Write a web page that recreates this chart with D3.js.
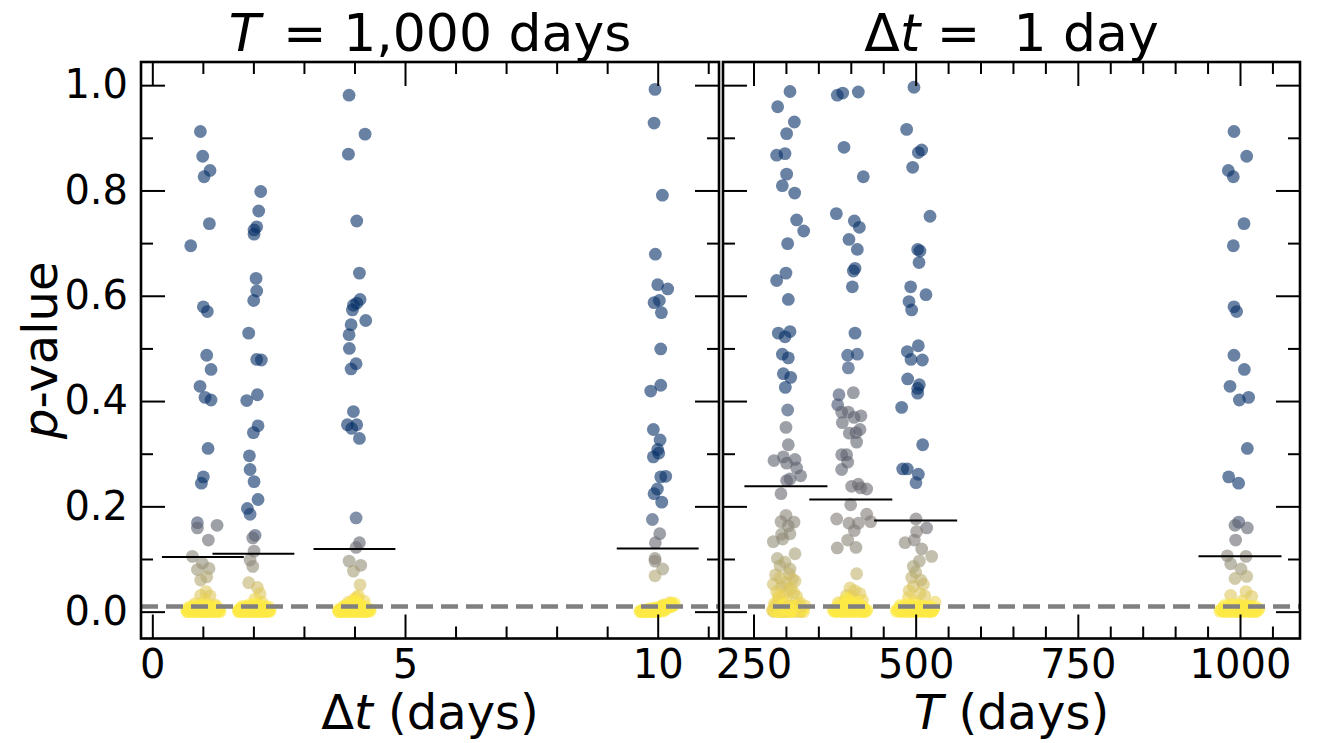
<!DOCTYPE html>
<html>
<head>
<meta charset="utf-8">
<script src="https://cdn.jsdelivr.net/npm/d3@7"></script>
<style>
  body { margin: 0; background: #fff; }
  text { font-family: "DejaVu Sans", sans-serif; white-space: pre; }
</style>
</head>
<body>
<div id="chart"></div>
<script>
// ---- data ----
// each point: [x position, p-value, colour value on cividis (0 blue .. 1 yellow)]
var dtCenters = [1, 2, 4, 10];
var dtMeans = [0.104, 0.110, 0.119, 0.120];
var tCenters = [300, 400, 500, 1000];
var tMeans = [0.238, 0.213, 0.173, 0.105];
var pThreshold = 0.01;

var dtTicks = [0, 5, 10];
var tTicks = [250, 500, 750, 1000];
var yTicks = [0, 0.2, 0.4, 0.6, 0.8, 1.0];

var dt1 = [[0.951,0.912,0],[0.997,0.865,0],[1.142,0.838,0],[1.024,0.826,0],[1.129,0.737,0],[0.760,0.695,0],
  [1.010,0.579,0],[1.089,0.570,0],[1.076,0.487,0],[1.162,0.460,0],[0.944,0.428,0],[1.043,0.407,0],[1.162,0.402,0],
  [1.103,0.310,0],[1.010,0.256,0],[0.971,0.244,0],[0.892,0.169,0.2],[0.892,0.159,0.3],[1.281,0.164,0.3],[1.109,0.136,0.35],
  [0.793,0.105,0.5],[0.990,0.092,0.55],[0.892,0.080,0.6],[1.122,0.082,0.6],[1.076,0.066,0.7],[0.957,0.060,0.7],
  [1.063,0.038,0.85],[0.957,0.031,0.85],[1.142,0.030,0.85],[1.043,0.022,0.9],[0.845,0.015,0.9],[1.241,0.013,0.9]];
var dt1Blob = [[0.68,0.002,1],[0.72,0.000,1],[0.75,0.004,1],[0.78,0.001,1],[0.81,0.003,1],[0.84,0.000,1],[0.86,0.006,1],
  [0.89,0.002,1],[0.92,0.000,1],[0.94,0.004,1],[0.97,0.001,1],[0.99,0.007,1],[1.02,0.002,1],[1.04,0.000,1],[1.06,0.005,1],
  [1.09,0.001,1],[1.11,0.003,1],[1.14,0.000,1],[1.16,0.006,1],[1.19,0.002,1],[1.22,0.000,1],[1.25,0.004,1],[1.28,0.001,1],
  [1.31,0.003,1],[1.34,0.000,1],[0.90,0.010,1],[1.05,0.011,1],[1.20,0.009,1],[0.80,0.008,1],[1.12,0.009,1],
  [0.70,0.005,1],[0.73,0.002,1],[0.765,0.006,1],[0.795,0.000,1],[0.825,0.005,1],[0.855,0.002,1],[0.875,0.008,1],
  [0.905,0.004,1],[0.93,0.001,1],[0.955,0.007,1],[0.98,0.003,1],[1.005,0.000,1],[1.03,0.006,1],[1.05,0.003,1],
  [1.075,0.008,1],[1.10,0.000,1],[1.125,0.006,1],[1.15,0.003,1],[1.175,0.001,1],[1.205,0.005,1],[1.235,0.002,1],
  [1.265,0.006,1],[1.295,0.000,1],[1.32,0.005,1],[0.74,0.009,1],[0.83,0.011,1],[0.97,0.013,1],[1.10,0.012,1],
  [1.26,0.010,1],[0.69,0.000,1],[1.33,0.003,1]];

var dt2 = [[2.145,0.798,0],[2.105,0.761,0],[2.066,0.731,0],[2.013,0.725,0],[2.013,0.717,0],[2.053,0.633,0],[2.066,0.609,0],
  [2.006,0.591,0],[1.907,0.529,0],[2.066,0.479,0],[2.158,0.478,0],[2.079,0.412,0],[1.868,0.401,0],[2.092,0.353,0],
  [2.000,0.340,0],[1.921,0.296,0],[1.934,0.270,0],[2.013,0.247,0],[2.092,0.213,0],[1.881,0.196,0],[1.934,0.185,0.05],
  [2.033,0.145,0.2],[1.987,0.140,0.3],[2.013,0.115,0.4],[1.934,0.098,0.5],[1.987,0.086,0.55],[1.907,0.055,0.75],
  [2.079,0.046,0.8],[2.132,0.034,0.85],[2.033,0.024,0.9],[2.171,0.018,0.9]];
var dt2Blob = [[1.70,0.001,1],[1.73,0.004,1],[1.76,0.000,1],[1.79,0.002,1],[1.82,0.005,1],[1.85,0.001,1],[1.88,0.003,1],
  [1.90,0.000,1],[1.93,0.006,1],[1.96,0.002,1],[1.98,0.000,1],[2.01,0.004,1],[2.03,0.001,1],[2.06,0.007,1],[2.08,0.002,1],
  [2.11,0.000,1],[2.14,0.004,1],[2.17,0.001,1],[2.20,0.003,1],[2.23,0.000,1],[2.26,0.002,1],[2.29,0.005,1],[2.33,0.001,1],
  [1.86,0.010,1],[2.00,0.012,1],[2.12,0.010,1],[2.22,0.009,1],
  [1.71,0.003,1],[1.745,0.006,1],[1.775,0.002,1],[1.805,0.000,1],[1.835,0.006,1],[1.865,0.003,1],[1.895,0.008,1],
  [1.915,0.001,1],[1.945,0.005,1],[1.97,0.002,1],[1.995,0.007,1],[2.02,0.000,1],[2.045,0.004,1],[2.07,0.001,1],
  [2.095,0.006,1],[2.12,0.003,1],[2.155,0.000,1],[2.185,0.005,1],[2.215,0.002,1],[2.245,0.006,1],[2.275,0.000,1],
  [2.31,0.004,1],[1.78,0.010,1],[1.92,0.013,1],[2.05,0.015,1],[2.17,0.011,1],[2.30,0.009,1],[1.72,0.000,1],
  [2.32,0.002,1],[1.99,0.010,1]];

var dt4 = [[3.893,0.981,0],[4.210,0.907,0],[3.880,0.869,0],[4.045,0.742,0],[4.098,0.643,0],[4.111,0.593,0],[4.045,0.586,0],
  [3.979,0.582,0],[3.959,0.573,0],[4.223,0.553,0],[3.933,0.545,0],[3.893,0.526,0],[3.899,0.500,0],[4.032,0.471,0],
  [3.933,0.461,0],[3.979,0.380,0],[3.860,0.355,0],[4.045,0.355,0],[3.946,0.348,0],[4.098,0.329,0],
  [4.032,0.178,0.15],[4.098,0.131,0.3],[4.032,0.122,0.35],[3.893,0.096,0.55],[4.124,0.088,0.55],[3.979,0.077,0.65],
  [4.111,0.051,0.8],[4.045,0.027,0.9],[3.880,0.018,0.9],[4.190,0.020,0.9],[4.00,0.024,0.95],[4.08,0.030,0.9]];
var dt4Blob = [[3.68,0.001,1],[3.71,0.004,1],[3.74,0.000,1],[3.77,0.002,1],[3.80,0.005,1],[3.83,0.001,1],[3.86,0.003,1],
  [3.88,0.000,1],[3.91,0.006,1],[3.94,0.002,1],[3.97,0.000,1],[3.99,0.004,1],[4.02,0.001,1],[4.05,0.007,1],[4.08,0.002,1],
  [4.11,0.000,1],[4.14,0.004,1],[4.17,0.001,1],[4.20,0.003,1],[4.23,0.000,1],[4.27,0.002,1],[4.31,0.001,1],[3.85,0.010,1],
  [3.96,0.013,1],[4.05,0.016,1],[4.12,0.011,1],[3.78,0.009,1],
  [3.69,0.004,1],[3.725,0.001,1],[3.755,0.006,1],[3.785,0.000,1],[3.815,0.003,1],[3.845,0.007,1],[3.87,0.002,1],
  [3.895,0.005,1],[3.925,0.000,1],[3.955,0.006,1],[3.98,0.002,1],[4.005,0.008,1],[4.03,0.003,1],[4.06,0.000,1],
  [4.09,0.005,1],[4.12,0.002,1],[4.155,0.006,1],[4.185,0.000,1],[4.215,0.004,1],[4.25,0.001,1],[4.29,0.005,1],
  [3.82,0.012,1],[3.92,0.015,1],[4.00,0.018,1],[4.10,0.014,1],[4.20,0.010,1],[4.03,0.021,1],[3.70,0.000,1],[4.30,0.003,1]];

var dt10 = [[9.947,0.992,0],[9.928,0.928,0],[10.093,0.791,0],[9.954,0.679,0],[10.000,0.621,0],[10.198,0.613,0],
  [10.033,0.591,0],[9.928,0.587,0],[10.073,0.568,0],[10.060,0.499,0],[10.060,0.430,0],[9.862,0.419,0],[9.914,0.346,0],
  [10.046,0.326,0],[10.000,0.308,0],[10.020,0.301,0],[9.914,0.294,0],[10.159,0.257,0],[10.060,0.256,0],[9.994,0.233,0],
  [9.928,0.224,0],[10.080,0.208,0],[9.895,0.175,0.15],[10.040,0.148,0.3],[9.954,0.131,0.35],[9.947,0.101,0.5],
  [9.947,0.096,0.5],[10.099,0.081,0.6],[9.947,0.068,0.7],[10.244,0.017,0.9],[10.112,0.013,0.9]];
var dt10Blob = [[9.65,0.000,1],[9.68,0.001,1],[9.71,0.000,1],[9.74,0.002,1],[9.77,0.001,1],[9.80,0.003,1],[9.83,0.001,1],
  [9.86,0.004,1],[9.89,0.002,1],[9.92,0.005,1],[9.95,0.003,1],[9.98,0.006,1],[10.01,0.004,1],[10.04,0.007,1],
  [10.07,0.005,1],[10.10,0.009,1],[10.13,0.006,1],[10.16,0.010,1],[10.19,0.008,1],[10.22,0.012,1],[10.25,0.010,1],
  [10.28,0.014,1],[10.31,0.012,1],[9.90,0.000,1],[10.00,0.000,1],[10.10,0.001,1],[9.80,0.000,1],
  [9.66,0.002,1],[9.695,0.000,1],[9.725,0.003,1],[9.755,0.000,1],[9.785,0.004,1],[9.815,0.002,1],[9.845,0.005,1],
  [9.875,0.003,1],[9.905,0.006,1],[9.935,0.002,1],[9.965,0.007,1],[9.995,0.003,1],[10.025,0.008,1],[10.055,0.004,1],
  [10.085,0.010,1],[10.115,0.006,1],[10.145,0.012,1],[10.175,0.008,1],[10.205,0.013,1],[10.235,0.009,1],
  [10.265,0.015,1],[10.295,0.011,1],[10.33,0.016,1],[9.85,0.000,1],[9.95,0.000,1],[10.05,0.001,1],[10.15,0.003,1],
  [9.75,0.001,1]];

var t300 = [[306.3,0.988,0],[287.3,0.959,0],[313.0,0.930,0],[301.1,0.908,0],[285.7,0.867,0],[298.6,0.870,0],[301.1,0.831,0],
  [294.5,0.809,0],[313.5,0.795,0],[316.5,0.744,0],[327.4,0.723,0],[302.7,0.699,0],[285.7,0.629,0],[300.1,0.643,0],
  [303.7,0.593,0],[288.3,0.529,0],[306.3,0.532,0],[298.6,0.522,0],[294.5,0.489,0],[303.7,0.482,0],[296.0,0.452,0],
  [307.3,0.445,0],[299.1,0.426,0],[302.7,0.383,0.15],[300.1,0.350,0.3],[303.7,0.317,0.3],[281.6,0.287,0.3],
  [296.0,0.294,0.3],[314.0,0.289,0.3],[301.1,0.282,0.3],[316.5,0.273,0.3],[322.7,0.258,0.3],[306.3,0.252,0.3],
  [301.1,0.249,0.3],[292.4,0.224,0.35],[300.1,0.183,0.5],[292.4,0.171,0.5],[312.4,0.170,0.5],[303.7,0.163,0.5],
  [293.4,0.147,0.55],[280.6,0.133,0.55],[306.3,0.148,0.55],[295.0,0.138,0.55],[286.8,0.101,0.65],[314.0,0.110,0.65],
  [290.9,0.087,0.7],[306.3,0.081,0.7],[298.6,0.094,0.7],[314.0,0.058,0.8],[280.6,0.052,0.8],[293.4,0.048,0.8],
  [303.7,0.040,0.85],[285.7,0.038,0.85],[316.5,0.029,0.85],[296.0,0.031,0.85],[321.7,0.017,0.9],[329.4,0.011,0.9],
  [288.3,0.024,0.9],[284.0,0.070,0.75],[305.0,0.072,0.75],[310.0,0.062,0.8],[291.0,0.064,0.8],[299.0,0.055,0.8],
  [308.0,0.045,0.85],[289.0,0.030,0.9],[300.0,0.020,0.9],[312.0,0.036,0.85],[282.0,0.015,0.9]];
var t300Blob = [[279,0.002,0.9],[282,0.000,0.85],[285,0.004,0.9],[288,0.001,0.85],[291,0.003,0.9],[294,0.000,0.85],
  [297,0.006,1],[300,0.002,0.9],[303,0.000,0.85],[306,0.005,1],[309,0.001,0.9],[312,0.003,1],[315,0.000,0.9],
  [318,0.004,1],[321,0.001,0.9],[324,0.002,1],[327,0.000,0.95],[290,0.009,1],[300,0.011,1],[310,0.010,0.95],
  [284,0.012,0.9],[318,0.013,0.9],
  [280.5,0.004,0.9],[283.5,0.001,1],[286.5,0.006,0.9],[289.5,0.002,1],[292.5,0.000,0.9],[295.5,0.005,1],
  [298.5,0.001,0.85],[301.5,0.007,1],[304.5,0.003,0.9],[307.5,0.000,1],[310.5,0.006,0.9],[313.5,0.002,1],
  [316.5,0.008,0.9],[319.5,0.003,1],[322.5,0.000,0.9],[325.5,0.005,1],[287,0.011,0.9],[296,0.014,1],[305,0.012,0.9],
  [314,0.010,1],[322,0.008,0.9],[300,0.000,1],[310,0.003,1],[290,0.000,1]];

var t400 = [[379.2,0.981,0],[387.5,0.985,0],[411.6,0.987,0],[389.5,0.882,0],[419.3,0.826,0],[377.7,0.756,0],[405.5,0.742,0],
  [413.2,0.730,0],[397.2,0.707,0],[410.1,0.688,0],[406.5,0.652,0],[403.9,0.647,0],[402.4,0.617,0],[406.5,0.529,0],
  [395.2,0.487,0.05],[410.1,0.489,0.05],[396.2,0.463,0.1],[403.9,0.416,0.3],[381.8,0.412,0.2],[379.8,0.393,0.2],
  [385.9,0.379,0.3],[396.2,0.379,0.3],[415.7,0.372,0.3],[405.0,0.369,0.3],[387.0,0.359,0.3],[414.2,0.346,0.3],
  [397.7,0.339,0.3],[408.0,0.340,0.3],[409.0,0.322,0.3],[385.9,0.298,0.3],[393.6,0.298,0.3],[395.2,0.284,0.3],
  [385.9,0.270,0.3],[401.3,0.238,0.35],[411.6,0.242,0.35],[424.5,0.233,0.35],[415.2,0.235,0.35],[399.8,0.203,0.4],
  [378.2,0.176,0.45],[397.2,0.168,0.45],[411.6,0.168,0.45],[424.5,0.185,0.45],[430.6,0.171,0.45],[405.5,0.154,0.45],
  [395.2,0.136,0.5],[379.2,0.121,0.5],[408.0,0.122,0.5],[409.0,0.072,0.75],[398.8,0.045,0.85],[414.2,0.034,0.85],
  [393.6,0.031,0.85],[380.8,0.017,0.9],[402.0,0.028,0.9],[418.0,0.022,0.9],[390.0,0.020,0.9],[406.0,0.040,0.85]];
var t400Blob = [[373,0.002,1],[376,0.000,1],[379,0.004,1],[382,0.001,1],[385,0.003,1],[388,0.000,1],[391,0.006,1],
  [394,0.002,1],[397,0.000,1],[400,0.005,1],[403,0.001,1],[406,0.003,1],[409,0.000,1],[412,0.004,1],[415,0.001,1],
  [418,0.002,1],[421,0.000,1],[425,0.003,1],[384,0.010,1],[396,0.012,1],[408,0.011,1],[419,0.009,1],[402,0.016,1],
  [374.5,0.004,1],[377.5,0.001,1],[380.5,0.006,1],[383.5,0.002,1],[386.5,0.000,1],[389.5,0.005,1],[392.5,0.001,1],
  [395.5,0.007,1],[398.5,0.003,1],[401.5,0.000,1],[404.5,0.006,1],[407.5,0.002,1],[410.5,0.008,1],[413.5,0.003,1],
  [416.5,0.000,1],[419.5,0.005,1],[423,0.001,1],[380,0.012,1],[391,0.014,1],[404,0.013,1],[414,0.010,1],
  [399,0.020,1],[411,0.018,1],[394,0.025,1]];

var t500 = [[497.4,0.996,0],[486.1,0.916,0],[509.3,0.877,0],[504.1,0.872,0],[495.4,0.844,0],[522.1,0.751,0],[503.1,0.688,0],
  [506.7,0.685,0],[505.2,0.663,0],[492.3,0.617,0],[515.9,0.602,0],[489.7,0.589,0],[493.8,0.573,0],[504.1,0.505,0],
  [487.1,0.494,0],[492.8,0.479,0],[510.3,0.478,0],[487.7,0.442,0],[505.7,0.431,0],[503.1,0.424,0],[503.1,0.415,0],
  [478.4,0.388,0],[510.8,0.317,0],[480.0,0.271,0],[487.1,0.271,0],[504.1,0.261,0],[500.5,0.245,0.05],
  [500.5,0.176,0.4],[516.9,0.159,0.35],[501.5,0.152,0.45],[497.9,0.136,0.45],[483.6,0.131,0.5],[509.3,0.119,0.5],
  [524.7,0.105,0.6],[505.7,0.096,0.6],[496.4,0.086,0.65],[493.8,0.065,0.75],[511.8,0.052,0.8],[496.4,0.048,0.8],
  [506.7,0.034,0.85],[529.8,0.018,0.9],[488.7,0.027,0.9],[500.0,0.075,0.7],[508.0,0.060,0.75],[490.0,0.040,0.85],
  [514.0,0.030,0.85],[498.0,0.020,0.9]];
var t500Blob = [[470,0.001,1],[473,0.004,1],[476,0.000,1],[479,0.002,1],[482,0.005,1],[485,0.001,1],[488,0.003,1],
  [491,0.000,1],[494,0.006,1],[497,0.002,1],[500,0.000,1],[503,0.004,1],[506,0.001,1],[509,0.003,1],[512,0.000,1],
  [515,0.005,1],[518,0.001,1],[521,0.002,1],[524,0.000,1],[527,0.003,1],[480,0.010,1],[492,0.012,1],[505,0.011,1],
  [517,0.009,1],
  [471.5,0.003,1],[474.5,0.006,1],[477.5,0.001,1],[480.5,0.004,1],[483.5,0.000,1],[486.5,0.007,1],[489.5,0.002,1],
  [492.5,0.005,1],[495.5,0.000,1],[498.5,0.006,1],[501.5,0.003,1],[504.5,0.008,1],[507.5,0.001,1],[510.5,0.005,1],
  [513.5,0.002,1],[516.5,0.007,1],[519.5,0.000,1],[522.5,0.004,1],[525.5,0.001,1],[528,0.006,1],[476,0.012,1],
  [487,0.014,1],[499,0.013,1],[511,0.011,1],[522,0.010,1]];

var t1000 = [[990.7,0.912,0],[1010.3,0.865,0],[982.0,0.838,0],[989.7,0.826,0],[1006.2,0.737,0],[989.7,0.695,0],
  [990.7,0.579,0],[994.8,0.570,0],[990.7,0.487,0],[1006.7,0.460,0],[984.6,0.428,0],[999.0,0.402,0],[1013.3,0.407,0],
  [1011.3,0.310,0],[982.5,0.256,0],[997.9,0.244,0],[997.9,0.170,0.2],[992.3,0.164,0.3],[1011.3,0.159,0.3],
  [993.3,0.136,0.35],[980.4,0.106,0.5],[1009.2,0.105,0.5],[985.6,0.091,0.55],[1001.5,0.081,0.6],[1010.3,0.067,0.7],
  [992.3,0.063,0.7],[1009.2,0.038,0.85],[985.6,0.031,0.85],[1018.0,0.029,0.85],[1003.0,0.020,0.9]];
var t1000Blob = [[969,0.001,1],[972,0.004,1],[975,0.000,1],[978,0.002,1],[981,0.005,1],[984,0.001,1],[987,0.003,1],
  [990,0.000,1],[993,0.006,1],[996,0.002,1],[999,0.000,1],[1002,0.004,1],[1005,0.001,1],[1008,0.003,1],[1011,0.000,1],
  [1014,0.005,1],[1017,0.001,1],[1020,0.002,1],[1024,0.000,1],[1028,0.003,1],[980,0.010,1],[995,0.012,1],[1008,0.011,1],
  [1018,0.009,1],
  [970.5,0.003,1],[973.5,0.006,1],[976.5,0.001,1],[979.5,0.004,1],[982.5,0.000,1],[985.5,0.007,1],[988.5,0.002,1],
  [991.5,0.005,1],[994.5,0.000,1],[997.5,0.006,1],[1000.5,0.003,1],[1003.5,0.008,1],[1006.5,0.001,1],[1009.5,0.005,1],
  [1012.5,0.002,1],[1015.5,0.007,1],[1018.5,0.000,1],[1021.5,0.004,1],[1025,0.001,1],[1029,0.005,1],[976,0.012,1],
  [987,0.014,1],[1000,0.013,1],[1012,0.011,1],[1023,0.010,1]];

// ---- layout ----
var svgWidth = 1319, svgHeight = 743;
var plotTop = 62, plotBottom = 638.5;

var svg = d3.select("#chart").append("svg")
    .attr("width", svgWidth)
    .attr("height", svgHeight);

var y = d3.scaleLinear().domain([-0.051, 1.044]).range([plotBottom, plotTop]);

// the darkest marks in the figure sit a little above the very end of cividis
var color = function(v) { return d3.interpolateCividis(0.08 + 0.92 * v); };

var panels = [
    {
        x: d3.scaleLinear().domain([-0.224, 11.213]).range([141, 719]),
        groups: [dt1, dt1Blob, dt2, dt2Blob, dt4, dt4Blob, dt10, dt10Blob],
        centers: dtCenters,
        means: dtMeans,
        halfWidth: 0.81,
        ticks: dtTicks,
        minor: d3.range(0, 12),
        yLabels: true,
        id: "left"
    },
    {
        x: d3.scaleLinear().domain([203.0, 1092.5]).range([723, 1300]),
        groups: [t300, t300Blob, t400, t400Blob, t500, t500Blob, t1000, t1000Blob],
        centers: tCenters,
        means: tMeans,
        halfWidth: 64,
        ticks: tTicks,
        minor: d3.range(250, 1100, 50),
        yLabels: false,
        id: "right"
    }
];

var yMinor = [0.1, 0.3, 0.5, 0.7, 0.9];

function styleAxis(g) {
    g.select(".domain").remove();
    g.selectAll("line").attr("stroke", "#000").attr("stroke-width", 2);
    g.selectAll("text").attr("fill", "#000");
    g.attr("font-size", 40).attr("font-family", "DejaVu Sans");
}

panels.forEach(function(p) {
    var x0 = p.x.range()[0], x1 = p.x.range()[1];
    var minorX = p.minor.filter(function(v) { return p.ticks.indexOf(v) < 0; });

    svg.append("clipPath").attr("id", "clip-" + p.id)
        .append("rect")
        .attr("x", x0).attr("y", plotTop)
        .attr("width", x1 - x0).attr("height", plotBottom - plotTop);

    var plot = svg.append("g").attr("clip-path", "url(#clip-" + p.id + ")");

    // points
    p.groups.forEach(function(group) {
        plot.append("g").selectAll("circle")
            .data(group)
            .enter().append("circle")
            .attr("cx", function(d) { return p.x(d[0]); })
            .attr("cy", function(d) { return y(d[1]); })
            .attr("r", 6.4)
            .attr("fill", function(d) { return color(d[2]); })
            .attr("fill-opacity", 0.6);
    });

    // mean lines
    plot.append("g").selectAll("line")
        .data(p.centers)
        .enter().append("line")
        .attr("x1", function(d) { return p.x(d - p.halfWidth); })
        .attr("x2", function(d) { return p.x(d + p.halfWidth); })
        .attr("y1", function(d, i) { return y(p.means[i]); })
        .attr("y2", function(d, i) { return y(p.means[i]); })
        .attr("stroke", "#000")
        .attr("stroke-width", 2);

    // threshold
    plot.append("line")
        .attr("x1", x0).attr("x2", x1)
        .attr("y1", y(pThreshold)).attr("y2", y(pThreshold))
        .attr("stroke", "#808080")
        .attr("stroke-width", 4.5)
        .attr("stroke-dasharray", "17,8");

    // ticks, all pointing inwards
    svg.append("g").attr("transform", "translate(0," + plotBottom + ")")
        .call(d3.axisBottom(p.x).tickValues(p.ticks).tickSizeInner(-24).tickSizeOuter(0)
            .tickPadding(11).tickFormat(d3.format("d")))
        .call(styleAxis);
    svg.append("g").attr("transform", "translate(0," + plotBottom + ")")
        .call(d3.axisBottom(p.x).tickValues(minorX).tickSize(-12).tickFormat(""))
        .call(styleAxis);
    svg.append("g").attr("transform", "translate(0," + plotTop + ")")
        .call(d3.axisTop(p.x).tickValues(p.ticks).tickSize(-24).tickFormat(""))
        .call(styleAxis);
    svg.append("g").attr("transform", "translate(0," + plotTop + ")")
        .call(d3.axisTop(p.x).tickValues(minorX).tickSize(-12).tickFormat(""))
        .call(styleAxis);

    svg.append("g").attr("transform", "translate(" + x0 + ",0)")
        .call(d3.axisLeft(y).tickValues(yTicks).tickSizeInner(-24).tickSizeOuter(0)
            .tickPadding(13).tickFormat(p.yLabels ? d3.format(".1f") : ""))
        .call(styleAxis);
    svg.append("g").attr("transform", "translate(" + x0 + ",0)")
        .call(d3.axisLeft(y).tickValues(yMinor).tickSize(-12).tickFormat(""))
        .call(styleAxis);
    svg.append("g").attr("transform", "translate(" + x1 + ",0)")
        .call(d3.axisRight(y).tickValues(yTicks).tickSize(-24).tickFormat(""))
        .call(styleAxis);
    svg.append("g").attr("transform", "translate(" + x1 + ",0)")
        .call(d3.axisRight(y).tickValues(yMinor).tickSize(-12).tickFormat(""))
        .call(styleAxis);

    // frame
    svg.append("rect")
        .attr("x", x0).attr("y", plotTop)
        .attr("width", x1 - x0).attr("height", plotBottom - plotTop)
        .attr("fill", "none")
        .attr("stroke", "#000")
        .attr("stroke-width", 2.6);
});

// ---- text ----
var leftMid = 430, rightMid = 1011.5;

var t1 = svg.append("text").attr("x", leftMid).attr("y", 51)
    .attr("text-anchor", "middle").attr("font-size", 52);
t1.append("tspan").attr("font-style", "italic").text("T");
t1.append("tspan").attr("dx", 6).text(" = ");
t1.append("tspan").text("1,000 days");

var t2 = svg.append("text").attr("x", rightMid).attr("y", 51)
    .attr("text-anchor", "middle").attr("font-size", 52);
t2.append("tspan").text("\u0394");
t2.append("tspan").attr("font-style", "italic").text("t");
t2.append("tspan").text(" =  1 day");

var xl1 = svg.append("text").attr("x", leftMid).attr("y", 729)
    .attr("text-anchor", "middle").attr("font-size", 48);
xl1.append("tspan").text("\u0394");
xl1.append("tspan").attr("font-style", "italic").text("t");
xl1.append("tspan").text(" (days)");

var xl2 = svg.append("text").attr("x", rightMid).attr("y", 729)
    .attr("text-anchor", "middle").attr("font-size", 48);
xl2.append("tspan").attr("font-style", "italic").text("T");
xl2.append("tspan").text(" (days)");

var yl = svg.append("text")
    .attr("transform", "translate(57," + ((plotTop + plotBottom) / 2) + ") rotate(-90)")
    .attr("text-anchor", "middle").attr("font-size", 48);
yl.append("tspan").attr("font-style", "italic").text("p");
yl.append("tspan").text("-value");
</script>
</body>
</html>
